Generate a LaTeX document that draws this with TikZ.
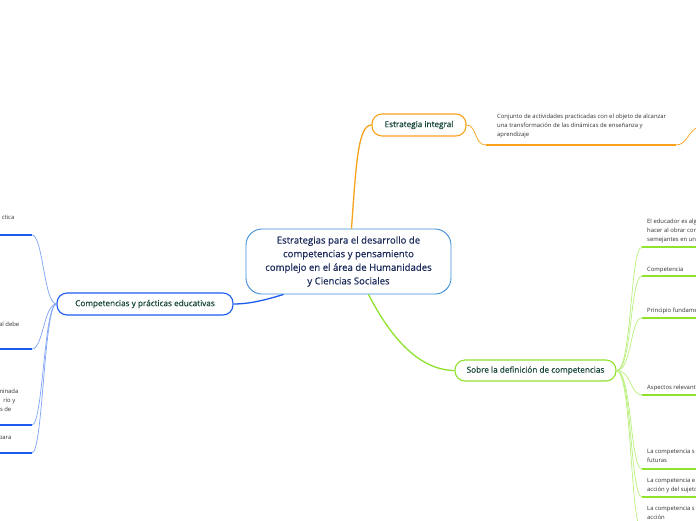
\documentclass[tikz,border=0pt]{standalone}
\usepackage{fontspec}
\setmainfont{Open Sans}
\newfontfamily\heavyfont[FakeBold=0.5]{Open Sans}
\usetikzlibrary{calc}
\definecolor{orng}{HTML}{F8A21C}
\definecolor{blu}{HTML}{1D5BF0}
\definecolor{lblu}{HTML}{7FA3F6}
\definecolor{grn}{HTML}{8FE32C}
\definecolor{lgrn}{HTML}{B9F07A}
\definecolor{cbord}{HTML}{3E8ED8}
\definecolor{navy}{HTML}{1B2B5C}
\definecolor{dgreen}{HTML}{17463A}
\definecolor{txt}{HTML}{333333}
\tikzset{
  topic/.style={draw, rounded corners=10pt, line width=1.1pt, fill=white, text=dgreen,
    font=\heavyfont\fontsize{8.2}{9}\selectfont, inner sep=0pt},
  mainbox/.style={draw=cbord, rounded corners=16pt, line width=0.9pt, fill=white, text=navy,
    align=center, font=\heavyfont\fontsize{9.6}{13.6}\selectfont, inner sep=0pt,
    minimum width=205pt, minimum height=65pt},
  small/.style={text=txt, font=\fontsize{5.9}{9.3}\selectfont, inner sep=0pt, align=left},
  conn/.style={line width=1.3pt},
  uline/.style={line width=1.8pt},
  branch/.style={line width=0.7pt}
}
\begin{document}
\begin{tikzpicture}[x=1pt,y=-1pt]
\clip (0,0) rectangle (696,520);
\fill[white] (0,0) rectangle (696,520);

% main node
\node[mainbox] (c) at (348.5,261.5) {Estrategias para el desarrollo de\\competencias y pensamiento\\complejo en el área de Humanidades\\y Ciencias Sociales};

% topics
\node[topic, draw=orng, minimum width=94pt, minimum height=22pt] (ei) at (419,125) {Estrategia integral};
\node[topic, draw=blu, minimum width=176pt, minimum height=22pt] (cp) at (145,304) {Competencias y prácticas educativas};
\node[topic, draw=grn, minimum width=161pt, minimum height=21pt] (sd) at (535.5,370.5) {Sobre la definición de competencias};

% main connectors
\draw[conn, orng] ($(c.north)+(3,0)$) .. controls (356,165) and (358,125) .. (ei.west);
\draw[conn, blu] ($(c.south)+(-65,0)$) .. controls (262,301) and (248,304) .. (cp.east);
\draw[conn, grn] ($(c.south)+(20,0)$) .. controls (392,340) and (420,370) .. (sd.west);

% Estrategia integral detail
\coordinate (e1a) at (486,145);
\coordinate (e1b) at (676,145);
\coordinate (e1c) at (698,127);
\draw[branch, orng] (ei.east) .. controls (477,125) and (474,145) .. (e1a);
\draw[uline, orng] (e1a) -- (e1b);
\draw[branch, orng] (e1b) .. controls (687,145) and (688,131) .. (e1c);
\node[small, anchor=north west] (et) at (497,113.5) {Conjunto de actividades practicadas con el objeto de alcanzar\\una transformación de las dinámicas de enseñanza y\\aprendizaje};

% left branches (blue)
\foreach \n/\y in {1/235,2/349,3/425,4/453}{
  \coordinate (la\n) at (-2,\y);
  \coordinate (lb\n) at (32,\y);
  \draw[branch, lblu] (cp.west) .. controls (44,304) and (43,\y) .. (lb\n);
  \draw[uline, blu] (la\n) -- (lb\n);
}
\node[small, anchor=base east] (lt1) at (14.5,219.5) {ctica};
\node[small, anchor=base east] (lt2) at (19.5,326.5) {al debe};
\node[small, anchor=base east] (lt3a) at (18.5,393.5) {minada};
\node[small, anchor=base east] (lt3b) at (15.5,402.5) {rio y};
\node[small, anchor=base east] (lt3c) at (11.5,411.5) {s de};
\node[small, anchor=base east] (lt4) at (11.5,439.5) {para};

% right branches (green)
\foreach \n/\y in {1/247,2/276,3/318,4/395,5/469,6/497,7/530}{
  \coordinate (ra\n) at (642,\y);
  \coordinate (rb\n) at (698,\y);
  \draw[branch, lgrn] (sd.east) .. controls (632,371) and (630,\y) .. (ra\n);
  \draw[uline, grn] (ra\n) -- (rb\n);
}
\node[small, anchor=north west] (rt1) at (647,218.5) {El educador es algo\\hacer al obrar con\\semejantes en un};
\node[small, anchor=base west] (rt2) at (647,271.5) {Competencia};
\node[small, anchor=base west] (rt3) at (647,312.5) {Principio fundame};
\node[small, anchor=base west] (rt4) at (647,389.5) {Aspectos relevant};
\node[small, anchor=north west] (rt5) at (647,448.5) {La competencia s\\futuras};
\node[small, anchor=north west] (rt6) at (647,477.5) {La competencia e\\acción y del sujeto};
\node[small, anchor=north west] (rt7) at (647,505.5) {La competencia s\\acción};
\end{tikzpicture}
\end{document}
